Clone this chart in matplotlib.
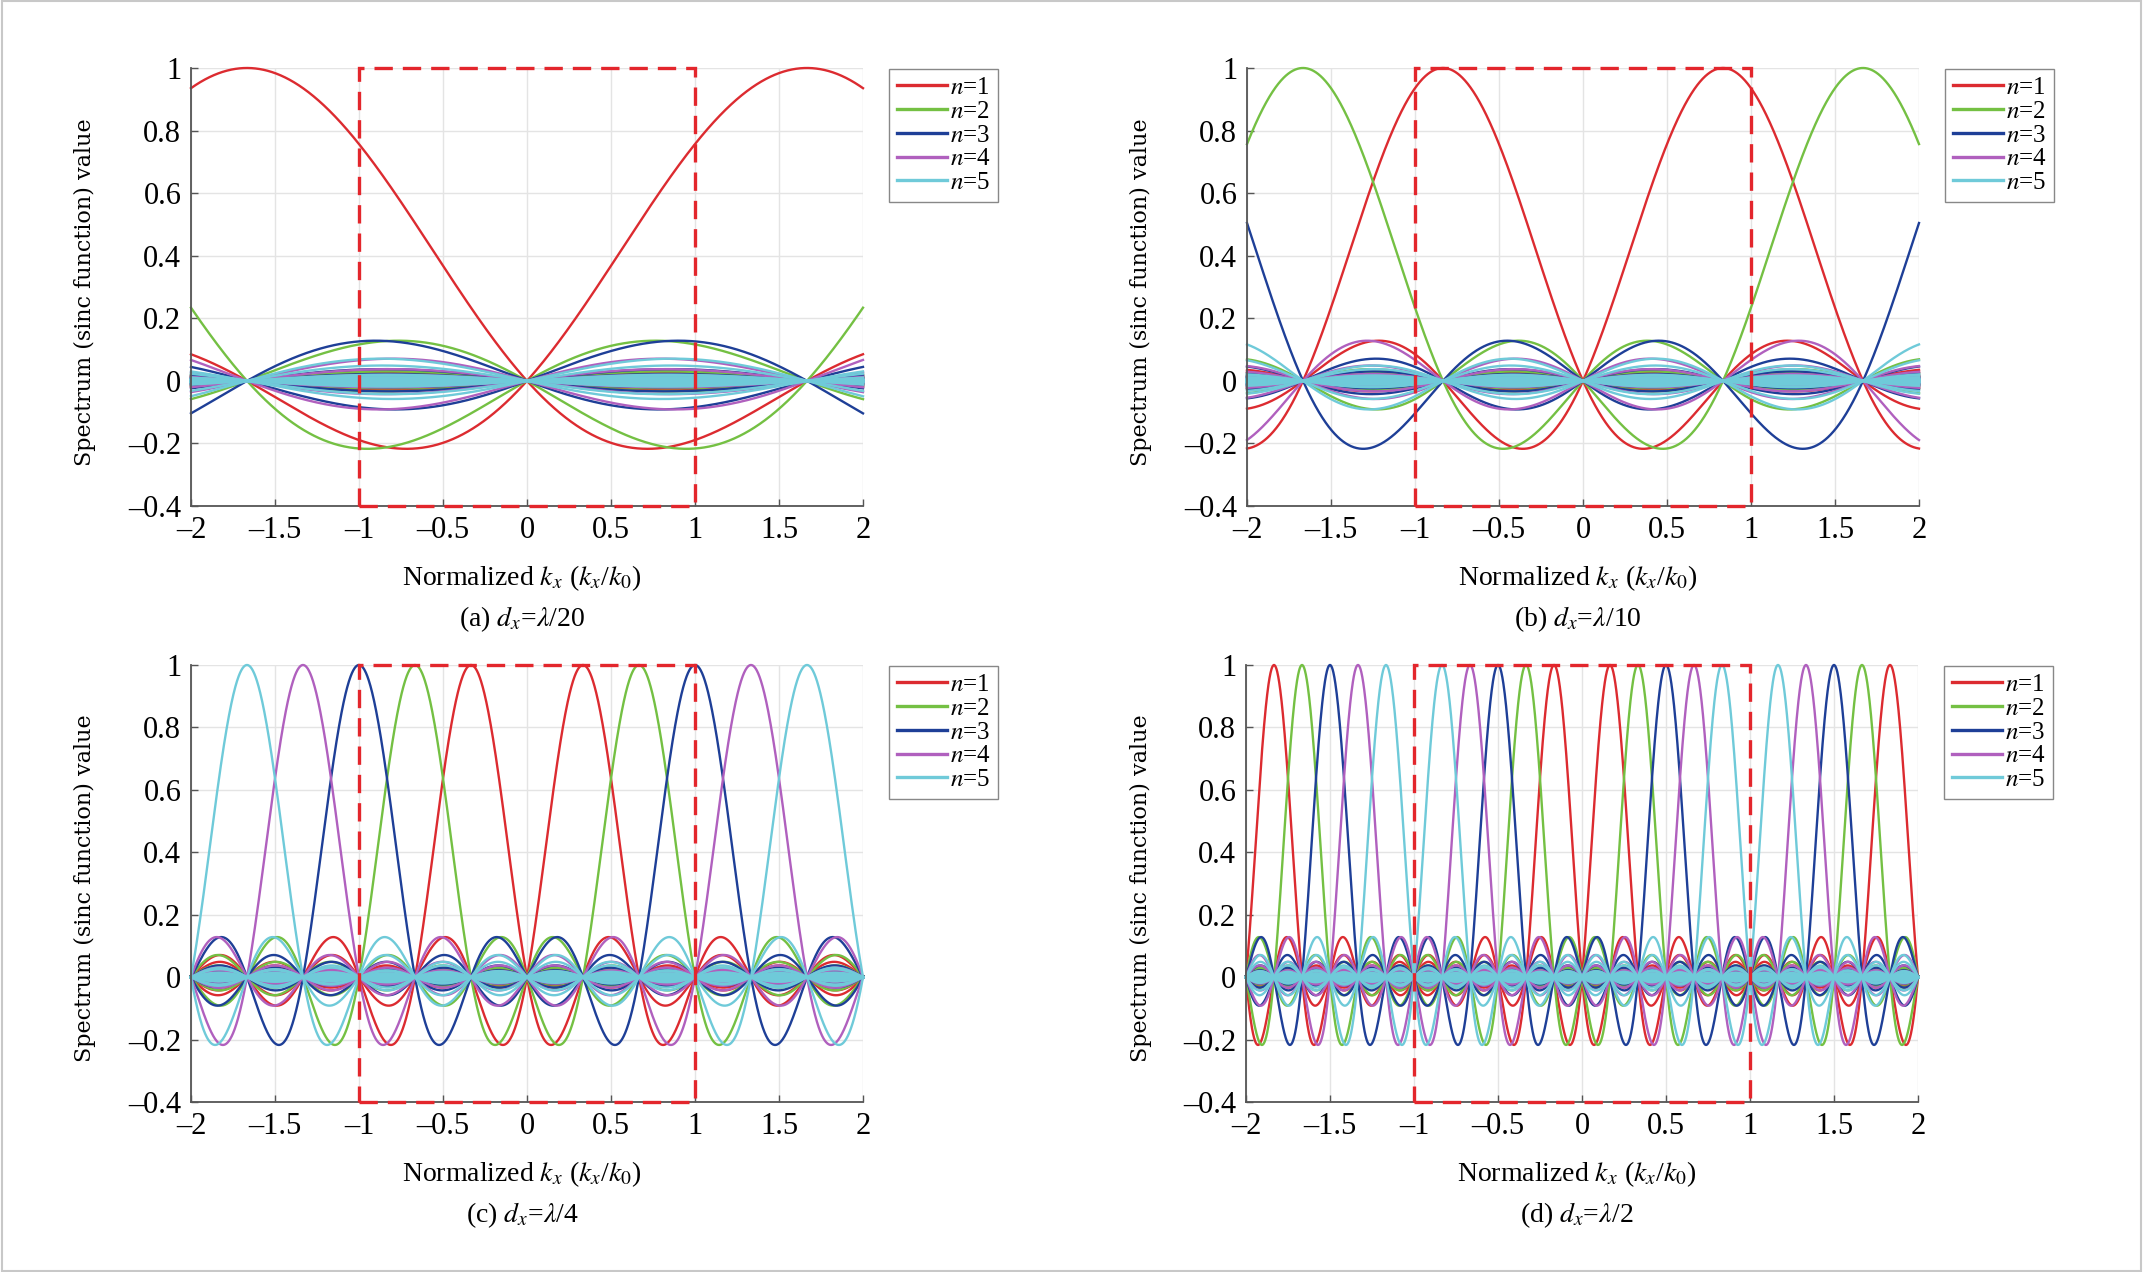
import numpy as np
import matplotlib
matplotlib.use("Agg")
from matplotlib import pyplot as plt
from matplotlib.patches import Rectangle
from matplotlib.ticker import FuncFormatter

# element spacing d_x = lambda / denom, one panel each
dx_denoms = [20, 10, 4, 2]
panel_tags = ["(a)", "(b)", "(c)", "(d)"]
n_elements = 12                        # sinc zero spacing = lambda / (N d_x)
modes = [1, 2, 3, 4, 5]
replica_orders = list(range(-20, 21))  # grating replicas every lambda / d_x
mode_colors = ["#DC2B30", "#74C043", "#1E3F97", "#B060BE", "#6FCAD9"]

kx = np.linspace(-2, 2, 2001)
x_ticks = [-2, -1.5, -1, -0.5, 0, 0.5, 1, 1.5, 2]
y_ticks = [-0.4, -0.2, 0, 0.2, 0.4, 0.6, 0.8, 1]
visible_box = (-1, 1, -0.4, 1)

W, H = 2143, 1272
# axes boxes in pixels: left, top, right, bottom
axes_px = [
    (191, 68, 863, 506),
    (1247, 68, 1919, 506),
    (191, 665, 863, 1102),
    (1246, 665, 1918, 1102),
]

plt.rcParams["font.family"] = ["Liberation Serif", "DejaVu Serif"]
plt.rcParams["mathtext.fontset"] = "stix"


def tick_fmt(v, pos):
    return f"{v:g}".replace("-", "\u2013")


fig = plt.figure(figsize=(W / 100, H / 100), dpi=100)
fig.patches.append(Rectangle((0.001, 0.001), 0.998, 0.998, transform=fig.transFigure,
                             fill=False, edgecolor="#c8c8c8", lw=1.5))

for tag, denom, (l, t, r, b) in zip(panel_tags, dx_denoms, axes_px):
    ax = fig.add_axes([l / W, 1 - b / H, (r - l) / W, (b - t) / H])
    delta = denom / n_elements     # lobe width in k_x / k_0
    period = denom                 # replica spacing lambda / d_x

    handles = []
    for n, col in zip(modes, mode_colors):
        first = None
        for sgn in (1, -1):
            for m in replica_orders:
                c = sgn * n * delta + m * period
                ln, = ax.plot(kx, np.sinc((kx - c) / delta), color=col, lw=1.7,
                              clip_on=False)
                if first is None:
                    first = ln
        first.set_label(f"$n$={n}")
        handles.append(first)

    x0, x1, y0, y1 = visible_box
    ax.add_patch(Rectangle((x0, y0), x1 - x0, y1 - y0, fill=False, edgecolor="#E3262C",
                           lw=2.4, ls=(0, (5.5, 3)), clip_on=False, zorder=5))

    ax.set_xlim(-2, 2)
    ax.set_ylim(-0.4, 1)
    ax.set_xticks(x_ticks)
    ax.set_yticks(y_ticks)
    ax.xaxis.set_major_formatter(FuncFormatter(tick_fmt))
    ax.yaxis.set_major_formatter(FuncFormatter(tick_fmt))
    ax.grid(True, color="#e4e4e4", lw=1.0)
    ax.set_axisbelow(True)
    for s in ("top", "right"):
        ax.spines[s].set_visible(False)
    for s in ("left", "bottom"):
        ax.spines[s].set_color("#555555")
        ax.spines[s].set_linewidth(1.3)
    ax.tick_params(direction="in", length=5, width=1, colors="#555555",
                   labelcolor="black", labelsize=22, pad=7)

    leg = fig.legend(handles=handles, loc="upper left",
                     bbox_to_anchor=((r + 26) / W, 1 - (t + 1) / H),
                     fontsize=18, handlelength=2.0, handletextpad=0.15,
                     labelspacing=0.05, borderpad=0.3, borderaxespad=0,
                     fancybox=False, framealpha=1, edgecolor="#888888")
    for ln in leg.get_lines():
        ln.set_linewidth(2.4)

    cx = (l + r) / 2 - 5
    fig.text(85 / W if l < 1000 else (85 + 1056) / W, 1 - (t + b + 10) / 2 / H,
             "Spectrum (sinc function) value", rotation=90, ha="center",
             va="center", fontsize=16, family="DejaVu Serif")
    fig.text(cx / W, 1 - (b + 72) / H, r"Normalized $k_x$ ($k_x$/$k_0$)",
             ha="center", va="center", fontsize=20)
    fig.text(cx / W, 1 - (b + 113) / H, tag + r" $d_x$=$\lambda$/" + str(denom),
             ha="center", va="center", fontsize=20)

fig.savefig("out.png", dpi=100)
